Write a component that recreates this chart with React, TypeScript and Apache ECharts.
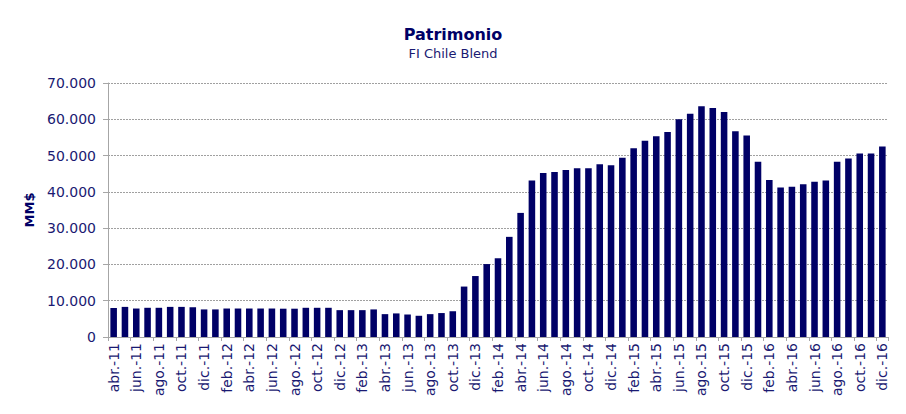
import React, { useEffect, useRef } from "react";
import * as echarts from "echarts";

const categories: string[] = [
  "abr.-11", "may.-11", "jun.-11", "jul.-11", "ago.-11", "sep.-11", "oct.-11", "nov.-11", "dic.-11",
  "ene.-12", "feb.-12", "mar.-12", "abr.-12", "may.-12", "jun.-12", "jul.-12", "ago.-12", "sep.-12", "oct.-12", "nov.-12", "dic.-12",
  "ene.-13", "feb.-13", "mar.-13", "abr.-13", "may.-13", "jun.-13", "jul.-13", "ago.-13", "sep.-13", "oct.-13", "nov.-13", "dic.-13",
  "ene.-14", "feb.-14", "mar.-14", "abr.-14", "may.-14", "jun.-14", "jul.-14", "ago.-14", "sep.-14", "oct.-14", "nov.-14", "dic.-14",
  "ene.-15", "feb.-15", "mar.-15", "abr.-15", "may.-15", "jun.-15", "jul.-15", "ago.-15", "sep.-15", "oct.-15", "nov.-15", "dic.-15",
  "ene.-16", "feb.-16", "mar.-16", "abr.-16", "may.-16", "jun.-16", "jul.-16", "ago.-16", "sep.-16", "oct.-16", "nov.-16", "dic.-16",
];

const patrimonio: number[] = [
  8000, 8300, 7850, 8050, 8050, 8300, 8300, 8200, 7600,
  7600, 7850, 7850, 7850, 7850, 7850, 7800, 7800, 8050, 8050, 8050, 7400,
  7400, 7400, 7600, 6300, 6500, 6200, 5850, 6300, 6600, 7100, 13900, 16800,
  20100, 21700, 27600, 34200, 43100, 45200, 45500, 46000, 46500, 46500, 47600, 47300,
  49400, 52000, 54100, 55300, 56500, 60000, 61500, 63600, 63100, 62000, 56700, 55500,
  48300, 43300, 41200, 41400, 42100, 42800, 43100, 48300, 49200, 50600, 50600, 52500,
];

const yTicks = { min: 0, max: 70000, interval: 10000 };

const NAVY = "#000066";
const LABEL = "#1a1a72";
const FONT = "'DejaVu Sans', Verdana, sans-serif";

function fmt(v: number): string {
  return String(Math.round(v)).replace(/\B(?=(\d{3})+(?!\d))/g, ".");
}

export default function App() {
  const ref = useRef<HTMLDivElement>(null);
  useEffect(() => {
    if (!ref.current) return;
    const chart = echarts.init(ref.current, undefined, { renderer: "svg" });
    chart.setOption({
      animation: false,
      backgroundColor: "#ffffff",
      title: {
        text: "Patrimonio",
        subtext: "FI Chile Blend",
        left: "center",
        top: 21,
        itemGap: 5,
        textStyle: { color: NAVY, fontFamily: FONT, fontSize: 16, fontWeight: "bold" },
        subtextStyle: { color: LABEL, fontFamily: FONT, fontSize: 13 },
      },
      grid: { left: 108, right: 18, top: 83, bottom: 77 },
      xAxis: {
        type: "category",
        data: categories,
        axisLine: { lineStyle: { color: "#a6a6a6" } },
        axisTick: { show: true, interval: 1, length: 4, lineStyle: { color: "#a6a6a6" } },
        axisLabel: {
          interval: 1,
          rotate: 90,
          color: LABEL,
          fontFamily: FONT,
          fontSize: 14,
          margin: 6,
        },
      },
      yAxis: {
        type: "value",
        min: yTicks.min,
        max: yTicks.max,
        interval: yTicks.interval,
        name: "MM$",
        nameLocation: "middle",
        nameGap: 70,
        nameTextStyle: { color: NAVY, fontFamily: FONT, fontSize: 13, fontWeight: "bold" },
        axisLine: { show: true, lineStyle: { color: "#a6a6a6" } },
        axisTick: { show: true, length: 5, lineStyle: { color: "#a6a6a6" } },
        axisLabel: {
          color: LABEL,
          fontFamily: FONT,
          fontSize: 14,
          margin: 12,
          formatter: (v: number) => fmt(v),
        },
        splitLine: { lineStyle: { color: "#a0a0a0", type: [2, 1], width: 1 } },
      },
      series: [
        {
          type: "bar",
          data: patrimonio,
          barCategoryGap: "42%",
          itemStyle: { color: NAVY },
        },
      ],
    });
    return () => chart.dispose();
  }, []);
  return <div ref={ref} style={{ width: 906, height: 414, position: "absolute", left: 0, top: 0 }} />;
}
